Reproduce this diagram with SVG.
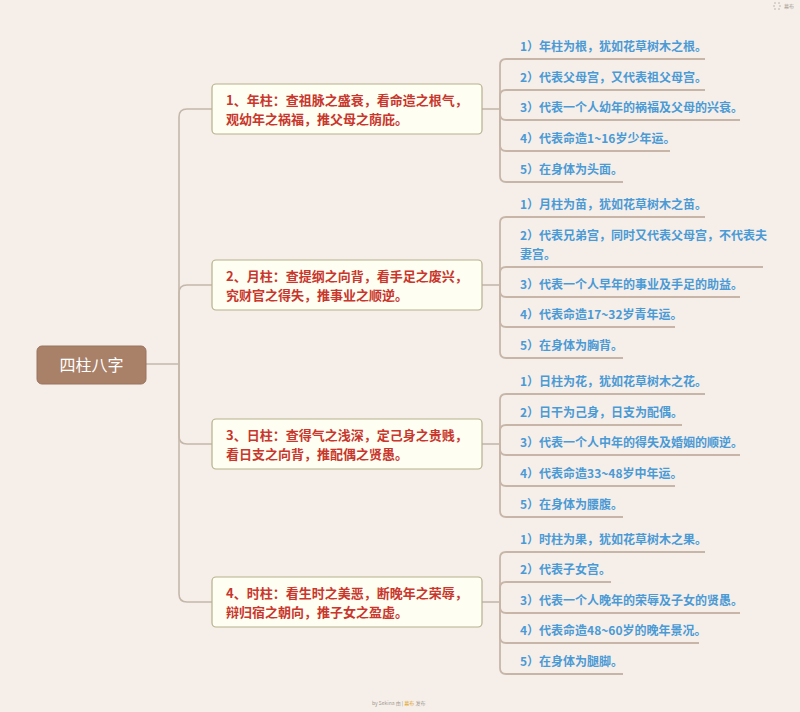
<svg xmlns="http://www.w3.org/2000/svg" width="800" height="712" viewBox="0 0 800 712">
<style>
.bg{fill:#f6efe9}
.ln{fill:none;stroke:#c5b8ab;stroke-width:1.6}
.ul{fill:none;stroke:#c7b6a8;stroke-width:1.8}
.box{fill:#fffef3;stroke:#b6b08c;stroke-width:1.2}
.bt{font-family:"Noto Sans CJK SC","Noto Sans",sans-serif;font-size:13px;font-weight:bold;fill:#c8362c}
.it{font-family:"Noto Sans CJK SC","Noto Sans",sans-serif;font-size:12px;font-weight:bold;fill:#4a9ad6}
.rt{font-family:"Noto Sans CJK SC","Noto Sans",sans-serif;font-size:16px;fill:#ffffff}
.sm{font-family:"Noto Sans CJK SC","Noto Sans",sans-serif;font-size:5px;fill:#a09890}
</style>
<rect class="bg" x="0" y="0" width="800" height="712"/>
<g id="connectors">
<path class="ln" d="M146,364 H179"/>
<path class="ln" d="M179,364 V117 Q179,109 187,109 H212"/>
<path class="ln" d="M179,364 V293 Q179,285 187,285 H212"/>
<path class="ln" d="M179,364 V436 Q179,444 187,444 H212"/>
<path class="ln" d="M179,364 V594 Q179,602 187,602 H212"/>
<path class="ln" d="M482,109 H500"/>
<path class="ul" d="M500,109 V65 Q500,59 506,59 H705"/>
<path class="ul" d="M500,109 V96 Q500,90 506,90 H705"/>
<path class="ul" d="M500,109 V114 Q500,120 506,120 H740"/>
<path class="ul" d="M500,109 V145 Q500,151 506,151 H670"/>
<path class="ul" d="M500,109 V176 Q500,182 506,182 H623"/>
<path class="ln" d="M482,285 H500"/>
<path class="ul" d="M500,285 V223 Q500,217 506,217 H705"/>
<path class="ul" d="M500,285 V273 Q500,267 506,267 H763"/>
<path class="ul" d="M500,285 V291 Q500,297 506,297 H740"/>
<path class="ul" d="M500,285 V321 Q500,327 506,327 H675"/>
<path class="ul" d="M500,285 V352 Q500,358 506,358 H623"/>
<path class="ln" d="M482,444 H500"/>
<path class="ul" d="M500,444 V400 Q500,394 506,394 H705"/>
<path class="ul" d="M500,444 V431 Q500,425 506,425 H682"/>
<path class="ul" d="M500,444 V449 Q500,455 506,455 H740"/>
<path class="ul" d="M500,444 V480 Q500,486 506,486 H675"/>
<path class="ul" d="M500,444 V511 Q500,517 506,517 H623"/>
<path class="ln" d="M482,602 H500"/>
<path class="ul" d="M500,602 V558 Q500,552 506,552 H705"/>
<path class="ul" d="M500,602 V588 Q500,582 506,582 H611"/>
<path class="ul" d="M500,602 V607 Q500,613 506,613 H740"/>
<path class="ul" d="M500,602 V637 Q500,643 506,643 H699"/>
<path class="ul" d="M500,602 V668 Q500,674 506,674 H623"/>
</g>
<g id="root">
<rect x="37" y="346" width="109" height="38" rx="5" fill="#a98068" stroke="#9a7560" stroke-width="1"/>
<text class="rt" x="91.5" y="370.5" text-anchor="middle">四柱八字</text>
</g>
<g id="b1">
<rect class="box" x="212" y="84" width="270" height="50" rx="4"/>
<text class="bt" x="226" y="104.5">1、年柱：查祖脉之盛衰，看命造之根气，</text>
<text class="bt" x="226" y="123.5">观幼年之祸福，推父母之荫庇。</text>
</g>
<g id="b2">
<rect class="box" x="212" y="260" width="270" height="50" rx="4"/>
<text class="bt" x="226" y="280.5">2、月柱：查提纲之向背，看手足之废兴，</text>
<text class="bt" x="226" y="299.5">究财官之得失，推事业之顺逆。</text>
</g>
<g id="b3">
<rect class="box" x="212" y="419" width="270" height="50" rx="4"/>
<text class="bt" x="226" y="439.5">3、日柱：查得气之浅深，定己身之贵贱，</text>
<text class="bt" x="226" y="458.5">看日支之向背，推配偶之贤愚。</text>
</g>
<g id="b4">
<rect class="box" x="212" y="577" width="270" height="50" rx="4"/>
<text class="bt" x="226" y="597.5">4、时柱：看生时之美恶，断晚年之荣辱，</text>
<text class="bt" x="226" y="616.5">辩归宿之朝向，推子女之盈虚。</text>
</g>
<g id="g1">
<text class="it" x="520" y="51">1）年柱为根，犹如花草树木之根。</text>
<text class="it" x="520" y="82">2）代表父母宫，又代表祖父母宫。</text>
<text class="it" x="520" y="112">3）代表一个人幼年的祸福及父母的兴衰。</text>
<text class="it" x="520" y="143">4）代表命造1~16岁少年运。</text>
<text class="it" x="520" y="174">5）在身体为头面。</text>
</g>
<g id="g2">
<text class="it" x="520" y="209">1）月柱为苗，犹如花草树木之苗。</text>
<text class="it" x="520" y="240">2）代表兄弟宫，同时又代表父母宫，不代表夫</text>
<text class="it" x="520" y="259">妻宫。</text>
<text class="it" x="520" y="289">3）代表一个人早年的事业及手足的助益。</text>
<text class="it" x="520" y="319">4）代表命造17~32岁青年运。</text>
<text class="it" x="520" y="350">5）在身体为胸背。</text>
</g>
<g id="g3">
<text class="it" x="520" y="386">1）日柱为花，犹如花草树木之花。</text>
<text class="it" x="520" y="417">2）日干为己身，日支为配偶。</text>
<text class="it" x="520" y="447">3）代表一个人中年的得失及婚姻的顺逆。</text>
<text class="it" x="520" y="478">4）代表命造33~48岁中年运。</text>
<text class="it" x="520" y="509">5）在身体为腰腹。</text>
</g>
<g id="g4">
<text class="it" x="520" y="544">1）时柱为果，犹如花草树木之果。</text>
<text class="it" x="520" y="574">2）代表子女宫。</text>
<text class="it" x="520" y="605">3）代表一个人晚年的荣辱及子女的贤愚。</text>
<text class="it" x="520" y="635">4）代表命造48~60岁的晚年景况。</text>
<text class="it" x="520" y="666">5）在身体为腿脚。</text>
</g>
<g id="topbar">
<rect x="774" y="3" width="6" height="6" fill="none" stroke="#b0a8a0" stroke-width="0.8" stroke-dasharray="2 2"/>
<text class="sm" x="784" y="8">幕布</text>
</g>
<g id="footer">
<text class="sm" x="372" y="705">by Sekina 由 | <tspan fill="#e0a020">幕布</tspan> 发布</text>
</g>
</svg>
